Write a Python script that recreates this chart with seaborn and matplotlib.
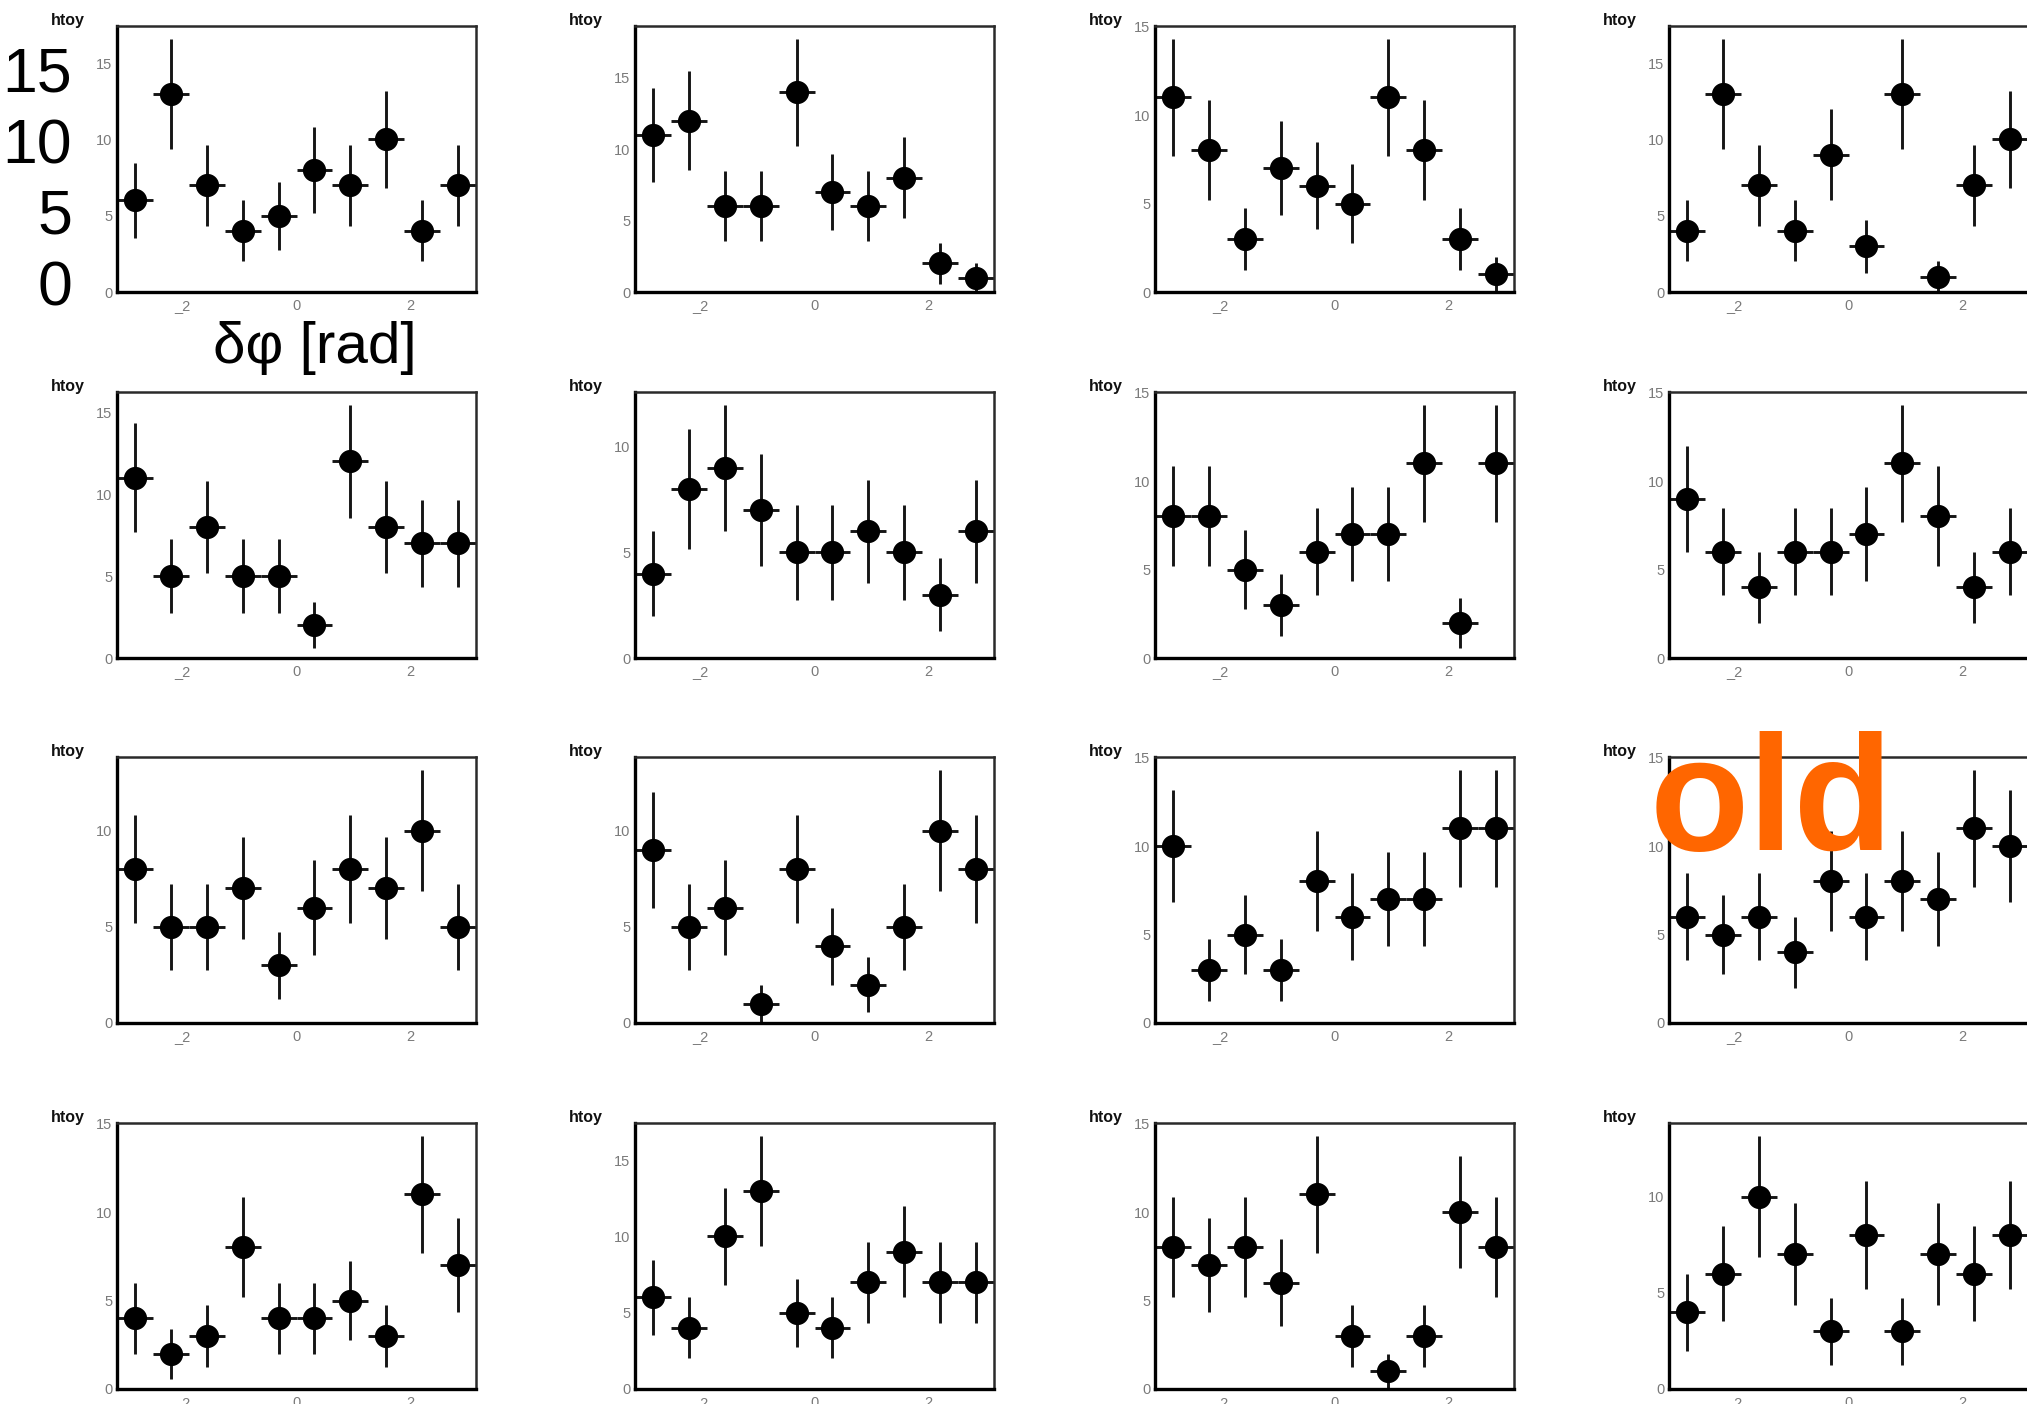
import numpy as np
import pandas as pd
import matplotlib
matplotlib.use("Agg")
import matplotlib.pyplot as plt
import seaborn as sns

sns.set_style("white")
plt.rcParams['font.family'] = ['Liberation Sans', 'DejaVu Sans']

# Bin contents of the sixteen toy histograms (10 bins over [-pi, pi]), row by row
counts_r1c1 = [6, 13, 7, 4, 5, 8, 7, 10, 4, 7]
counts_r1c2 = [11, 12, 6, 6, 14, 7, 6, 8, 2, 1]
counts_r1c3 = [11, 8, 3, 7, 6, 5, 11, 8, 3, 1]
counts_r1c4 = [4, 13, 7, 4, 9, 3, 13, 1, 7, 10]

counts_r2c1 = [11, 5, 8, 5, 5, 2, 12, 8, 7, 7]
counts_r2c2 = [4, 8, 9, 7, 5, 5, 6, 5, 3, 6]
counts_r2c3 = [8, 8, 5, 3, 6, 7, 7, 11, 2, 11]
counts_r2c4 = [9, 6, 4, 6, 6, 7, 11, 8, 4, 6]

counts_r3c1 = [8, 5, 5, 7, 3, 6, 8, 7, 10, 5]
counts_r3c2 = [9, 5, 6, 1, 8, 4, 2, 5, 10, 8]
counts_r3c3 = [10, 3, 5, 3, 8, 6, 7, 7, 11, 11]
counts_r3c4 = [6, 5, 6, 4, 8, 6, 8, 7, 11, 10]

counts_r4c1 = [4, 2, 3, 8, 4, 4, 5, 3, 11, 7]
counts_r4c2 = [6, 4, 10, 13, 5, 4, 7, 9, 7, 7]
counts_r4c3 = [8, 7, 8, 6, 11, 3, 1, 3, 10, 8]
counts_r4c4 = [4, 6, 10, 7, 3, 8, 3, 7, 6, 8]

panels = [
    [counts_r1c1, counts_r1c2, counts_r1c3, counts_r1c4],
    [counts_r2c1, counts_r2c2, counts_r2c3, counts_r2c4],
    [counts_r3c1, counts_r3c2, counts_r3c3, counts_r3c4],
    [counts_r4c1, counts_r4c2, counts_r4c3, counts_r4c4],
]

hist_title = "htoy"
x_tick_values = [-2, 0, 2]
x_tick_labels = ["_2", "0", "2"]
y_tick_values = [0, 5, 10, 15]
big_y_labels = ["15", "10", "5", "0"]
big_x_label = "δφ [rad]"
stamp_text = "old"

# canvas geometry in pixels
W, H = 2027, 1404
fig = plt.figure(figsize=(W / 100, H / 100), dpi=100)

col_left = [117, 635, 1155, 1669]
row_top = [26, 392, 757, 1123]
frame_w, frame_h = 359, 266

n_bins = 10
edges = np.linspace(-np.pi, np.pi, n_bins + 1)
centers = 0.5 * (edges[:-1] + edges[1:])
half_width = 0.5 * (edges[1] - edges[0])

for r in range(4):
    for c in range(4):
        y = np.asarray(panels[r][c], dtype=float)
        err = np.sqrt(y)
        ax = fig.add_axes([col_left[c] / W, 1 - (row_top[r] + frame_h) / H,
                           frame_w / W, frame_h / H])
        ax.errorbar(centers, y, xerr=half_width, yerr=err, fmt='none',
                    ecolor='#151515', elinewidth=2.1, capsize=0, zorder=2)
        df = pd.DataFrame({'dphi': centers, 'entries': y})
        sns.scatterplot(data=df, x='dphi', y='entries', ax=ax, s=280,
                        color='black', edgecolor='black', linewidth=0,
                        legend=False, zorder=3)
        ax.set_xlim(-np.pi, np.pi)
        ax.set_ylim(0, 1.05 * np.max(y + err))
        ax.set_xlabel('')
        ax.set_ylabel('')
        ax.set_xticks(x_tick_values)
        ax.set_xticklabels(x_tick_labels)
        yt = [v for v in y_tick_values if v <= ax.get_ylim()[1]]
        ax.set_yticks(yt)
        ax.set_yticklabels([str(v) for v in yt])
        ax.tick_params(direction='in', length=7, width=2.2, color='black',
                       labelcolor='#7a7a7a', labelsize=10.5, pad=3.5)
        ax.tick_params(axis='x', pad=5)
        for side in ['left', 'bottom']:
            ax.spines[side].set_linewidth(2.4)
            ax.spines[side].set_color('black')
        for side in ['top', 'right']:
            ax.spines[side].set_linewidth(1.8)
            ax.spines[side].set_color('#2a2a2a')
        ax.grid(False)
        fig.text((col_left[c] - 66) / W, 1 - (row_top[r] - 1) / H, hist_title,
                 ha='left', va='baseline', fontsize=11.5, fontweight='bold',
                 color='#111111')

# large annotation overlays
big_baselines = [92, 163, 233, 305]
for label, base in zip(big_y_labels, big_baselines):
    fig.text(72 / W, 1 - base / H, label, ha='right', va='baseline',
             fontsize=45, color='black')

fig.text(315 / W, 1 - 363 / H, big_x_label, ha='center', va='baseline',
         fontsize=42, color='black')

fig.text(1650 / W, 1 - 850 / H, stamp_text, ha='left', va='baseline',
         fontsize=117, fontweight='bold', color='#ff6600')

fig.savefig("out.png", dpi=100)
